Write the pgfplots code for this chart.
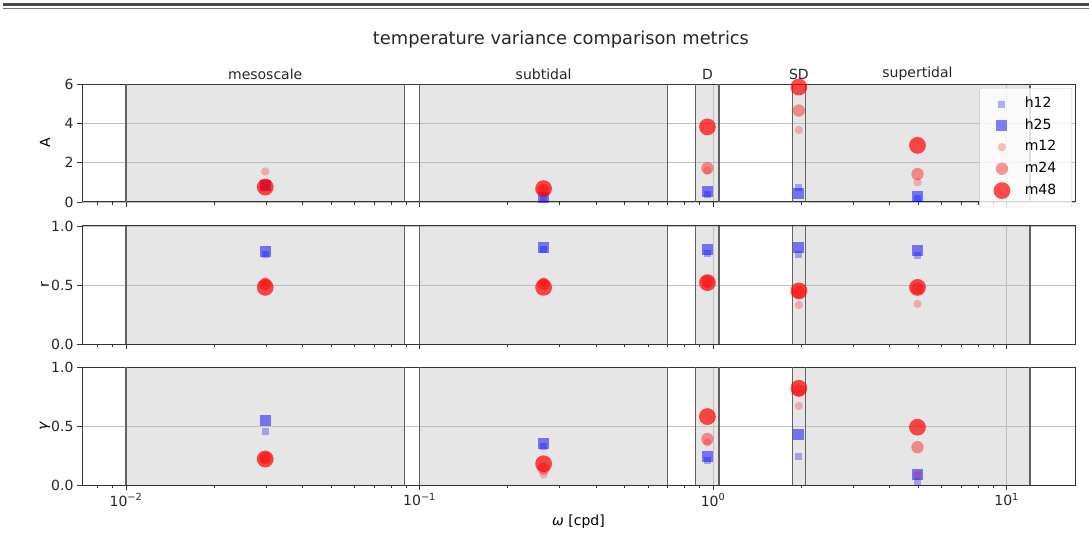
\documentclass[border=0pt]{standalone}
\usepackage{pgfplots}
\pgfplotsset{compat=1.18}
\usepackage{fontspec}
\setmainfont{DejaVu Sans}

% Frequency bands in cpd: mesoscale, subtidal, D, SD, supertidal.
% #1 is the top of the panel's y range.
\newcommand\bands[1]{%
  \begin{pgfonlayer}{axis background}
    \fill[gray, fill opacity=0.2] (axis cs:0.01,0)  rectangle (axis cs:0.089,#1);
    \fill[gray, fill opacity=0.2] (axis cs:0.1,0)   rectangle (axis cs:0.7,#1);
    \fill[gray, fill opacity=0.2] (axis cs:0.873,0) rectangle (axis cs:1.048,#1);
    \fill[gray, fill opacity=0.2] (axis cs:1.862,0) rectangle (axis cs:2.063,#1);
    \fill[gray, fill opacity=0.2] (axis cs:2.063,0) rectangle (axis cs:12,#1);
  \end{pgfonlayer}
  \draw[bandedge] (axis cs:0.01,0)  -- (axis cs:0.01,#1);
  \draw[bandedge] (axis cs:0.089,0) -- (axis cs:0.089,#1);
  \draw[bandedge] (axis cs:0.1,0)   -- (axis cs:0.1,#1);
  \draw[bandedge] (axis cs:0.7,0)   -- (axis cs:0.7,#1);
  \draw[bandedge] (axis cs:0.873,0) -- (axis cs:0.873,#1);
  \draw[bandedge] (axis cs:1.048,0) -- (axis cs:1.048,#1);
  \draw[bandedge] (axis cs:1.862,0) -- (axis cs:1.862,#1);
  \draw[bandedge] (axis cs:2.063,0) -- (axis cs:2.063,#1);
  \draw[bandedge] (axis cs:12,0)    -- (axis cs:12,#1);
}

\tikzset{bandedge/.style={black!62, line width=1.4pt}}

\pgfplotsset{
  every axis/.append style={
    set layers,
    clip mode=individual,
    scale only axis, width=993pt, height=118pt,
    xmode=log, xmin=0.00708, xmax=17.1, ymin=0,
    axis line style={black!80, line width=1pt},
    every tick/.style={black!80, line width=0.9pt},
    tick align=outside, xtick pos=lower, ytick pos=left,
    major tick length=5pt, minor tick length=3pt,
    xtick={0.01,0.1,1,10},
    minor xtick={0.008,0.009,0.02,0.03,0.04,0.05,0.06,0.07,0.08,0.09,
                 0.2,0.3,0.4,0.5,0.6,0.7,0.8,0.9,2,3,4,5,6,7,8,9},
    grid=major,
    major grid style={color=black!25, line width=0.9pt},
    ticklabel style={font=\fontsize{14}{16}\selectfont, text=black!85},
    every axis y label/.style={at={(axis description cs:-0.0373,0.5)},
      rotate=90, anchor=center, font=\fontsize{14}{16}\selectfont},
    every axis x label/.style={at={(axis description cs:0.5,-0.31)},
      anchor=center, font=\fontsize{14}{16}\selectfont},
  },
  h12/.style={only marks, color=blue, mark=square*, mark size=3.5pt,
    mark options={solid, draw opacity=0, fill=blue, fill opacity=0.3}},
  h25/.style={only marks, color=blue, mark=square*, mark size=5.5pt,
    mark options={solid, draw opacity=0, fill=blue, fill opacity=0.5}},
  m12/.style={only marks, color=red, mark=*, mark size=4.2pt,
    mark options={solid, draw opacity=0, fill=red, fill opacity=0.25}},
  m24/.style={only marks, color=red, mark=*, mark size=6.2pt,
    mark options={solid, draw opacity=0, fill=red, fill opacity=0.4}},
  m48/.style={only marks, color=red, mark=*, mark size=8.4pt,
    mark options={solid, draw opacity=0, fill=red, fill opacity=0.7}},
}

\begin{document}
\begin{tikzpicture}[x=1pt,y=1pt]
\path (0,0) rectangle (1089,552);
% double rule across the head of the page
\fill[black!72] (3,546.3) rectangle (1089,549);
\fill[black!55] (3,542.8) rectangle (1089,543.8);

\node[font=\fontsize{17.8}{20}\selectfont, text=black!85] at (561,512)
  {temperature variance comparison metrics};

% ---------------- amplitude ratio A ----------------
\begin{axis}[at={(82pt,350pt)}, anchor=south west,
  xticklabels={},
  ymax=6, ytick={0,2,4,6}, yticklabels={0,2,4,6}, ylabel={A},
  legend style={at={(1,1)}, xshift=-3pt, yshift=-4pt, anchor=north east,
    draw=black!22, fill=white, fill opacity=0.8, text opacity=1,
    rounded corners=2pt, font=\fontsize{14}{16}\selectfont,
    row sep=5.5pt, column sep=13pt, inner xsep=14pt, inner ysep=8pt,
    nodes={inner sep=1.5pt, text height=10pt, text depth=3pt}},
  legend cell align=left,
]
\bands{6}
\node[font=\fontsize{14}{16}\selectfont, text=black!85] at (axis cs:0.0298,6) [yshift=10pt] {mesoscale};
\node[font=\fontsize{14}{16}\selectfont, text=black!85] at (axis cs:0.2646,6) [yshift=10pt] {subtidal};
\node[font=\fontsize{14}{16}\selectfont, text=black!85] at (axis cs:0.9565,6) [yshift=10pt] {D};
\node[font=\fontsize{14}{16}\selectfont, text=black!85] at (axis cs:1.96,6)   [yshift=10pt] {SD};
\node[font=\fontsize{14}{16}\selectfont, text=black!85] at (axis cs:4.97,6)   [yshift=10pt] {supertidal};
\addplot[h12] coordinates {(0.0298,0.85) (0.2646,0.20) (0.9565,0.40) (1.96,0.72) (4.97,0.20)};
\addplot[h25] coordinates {(0.0298,0.85) (0.2646,0.25) (0.9565,0.52) (1.96,0.45) (4.97,0.30)};
\addplot[m12] coordinates {(0.0298,1.55) (0.2646,0.58) (0.9565,1.60) (1.96,3.66) (4.97,1.00)};
\addplot[m24] coordinates {(0.0298,0.85) (0.2646,0.62) (0.9565,1.72) (1.96,4.65) (4.97,1.42)};
\addplot[m48] coordinates {(0.0298,0.76) (0.2646,0.68) (0.9565,3.82) (1.96,5.85) (4.97,2.88)};
\legend{h12,h25,m12,m24,m48}
\end{axis}

% ---------------- correlation r ----------------
\begin{axis}[at={(82pt,208pt)}, anchor=south west,
  xticklabels={},
  ymax=1, ytick={0,0.5,1}, yticklabels={0.0,0.5,1.0}, ylabel={r}]
\bands{1}
\addplot[h12] coordinates {(0.0298,0.76) (0.2646,0.80) (0.9565,0.77) (1.96,0.76) (4.97,0.75)};
\addplot[h25] coordinates {(0.0298,0.78) (0.2646,0.82) (0.9565,0.80) (1.96,0.815) (4.97,0.79)};
\addplot[m12] coordinates {(0.0298,0.53) (0.2646,0.53) (0.9565,0.50) (1.96,0.33) (4.97,0.34)};
\addplot[m24] coordinates {(0.0298,0.51) (0.2646,0.51) (0.9565,0.53) (1.96,0.44) (4.97,0.47)};
\addplot[m48] coordinates {(0.0298,0.48) (0.2646,0.48) (0.9565,0.52) (1.96,0.45) (4.97,0.48)};
\end{axis}

% ---------------- gamma ----------------
\begin{axis}[at={(82pt,67pt)}, anchor=south west,
  ymax=1, ytick={0,0.5,1}, yticklabels={0.0,0.5,1.0}, ylabel={\textit{γ}},
  xticklabels={10\textsuperscript{−2},10\textsuperscript{−1},10\textsuperscript{0},10\textsuperscript{1}},
  xlabel={\textit{ω} [cpd]}]
\bands{1}
\addplot[h12] coordinates {(0.0298,0.45) (0.2646,0.33) (0.9565,0.21) (1.96,0.24) (4.97,0.03)};
\addplot[h25] coordinates {(0.0298,0.55) (0.2646,0.35) (0.9565,0.245) (1.96,0.43) (4.97,0.085)};
\addplot[m12] coordinates {(0.0298,0.22) (0.2646,0.09) (0.9565,0.36) (1.96,0.67) (4.97,0.09)};
\addplot[m24] coordinates {(0.0298,0.23) (0.2646,0.14) (0.9565,0.39) (1.96,0.80) (4.97,0.32)};
\addplot[m48] coordinates {(0.0298,0.22) (0.2646,0.18) (0.9565,0.58) (1.96,0.82) (4.97,0.49)};
\end{axis}
\end{tikzpicture}
\end{document}
